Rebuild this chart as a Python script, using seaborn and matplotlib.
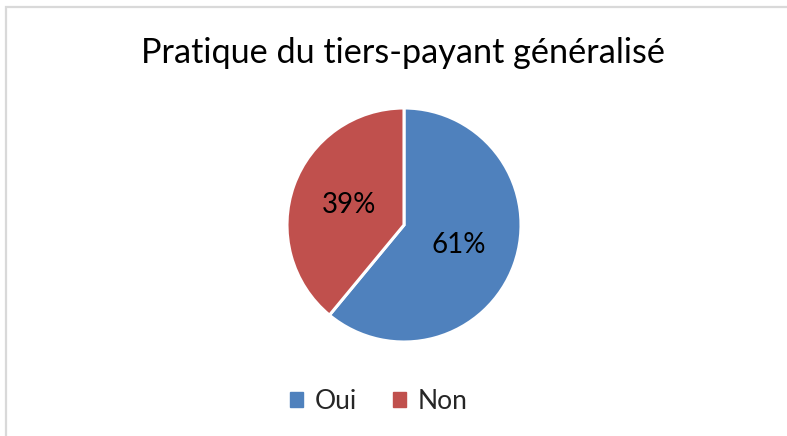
import matplotlib
matplotlib.use("Agg")
import matplotlib.pyplot as plt
import matplotlib.patches as mpatches
import seaborn as sns

categories = ["Oui", "Non"]
values = [61, 39]
colors = ["#4F81BD", "#C0504D"]
title = "Pratique du tiers-payant généralisé"

sns.set_theme(style="white")
plt.rcParams['font.family'] = ['Lato', 'DejaVu Sans']

W, H = 787, 436
fig = plt.figure(figsize=(W / 100, H / 100), dpi=100)
fig.patch.set_facecolor("white")

# border
fig.add_artist(mpatches.Rectangle((6 / W, -0.05), 1.1, 1 - 7 / H + 0.05,
                                  transform=fig.transFigure, fill=False,
                                  edgecolor="#D9D9D9", linewidth=1.6))

cx, cy, r = 404, 225, 117
ax = fig.add_axes([(cx - r) / W, 1 - (cy + r) / H, 2 * r / W, 2 * r / H])
wedges, texts, autotexts = ax.pie(values, colors=colors, startangle=90,
                                  counterclock=False, radius=1,
                                  autopct=lambda p: f"{p:.0f}%", pctdistance=0.5,
                                  wedgeprops=dict(edgecolor="white", linewidth=2.2),
                                  textprops=dict(fontsize=20, color="black"))
ax.set_xlim(-1.0, 1.0)
ax.set_ylim(-1.0, 1.0)
ax.set_aspect("equal")
ax.axis("off")

fig.text(403 / W, 1 - 63 / H, title, ha="center", va="baseline", fontsize=24.7, color="black")

handles = [mpatches.Patch(facecolor=c, edgecolor=c) for c in colors]
fig.legend(handles, categories, loc="center", bbox_to_anchor=(379 / W, 1 - 401 / H),
           ncol=2, frameon=False, fontsize=19, handlelength=0.5, handleheight=0.5,
           handletextpad=0.45, columnspacing=1.35)

fig.savefig("out.png", dpi=100, facecolor="white")
